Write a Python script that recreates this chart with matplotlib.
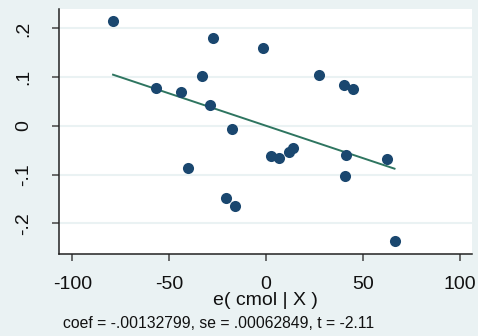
import numpy as np
import matplotlib
matplotlib.use("Agg")
import matplotlib.pyplot as plt

plt.rcParams['font.family'] = ['Liberation Sans', 'DejaVu Sans']

# residual data
ex = [-79.0, -27.2, -56.6, -43.7, -33.0, -29.1, -17.4, -40.1, -20.5, -16.0,
      -1.7, 27.4, 40.1, 45.1, 2.4, 6.9, 11.9, 14.1, 41.3, 62.5, 40.6, 66.3]
ey = [0.215, 0.181, 0.078, 0.070, 0.102, 0.043, -0.0055, -0.086, -0.149, -0.164,
      0.160, 0.104, 0.083, 0.075, -0.062, -0.066, -0.053, -0.045, -0.060, -0.068,
      -0.103, -0.237]
coef = -0.00132799
se = 0.00062849
tstat = -2.11
xticks = [-100, -50, 0, 50, 100]
yticks = [-0.2, -0.1, 0.0, 0.1, 0.2]
yticklabels = ['-.2', '-.1', '0', '.1', '.2']

bg = '#eaf2f3'
fig = plt.figure(figsize=(4.78, 3.36), dpi=100, facecolor=bg)
ax = fig.add_axes([59/478, 1-254/336, (472-59)/478, (254-9)/336])
ax.set_facecolor('white')

ex_a = np.array(ex); ey_a = np.array(ey)
icpt = ey_a.mean() - coef * ex_a.mean()
xl = np.array([ex_a.min(), ex_a.max()])
ax.scatter(ex, ey, s=64, color='#1a476f', zorder=3, linewidths=0)
ax.plot(xl, icpt + coef * xl, color='#2e7560', lw=1.4, zorder=2)

ax.set_xlim(-106.9, 106.3)
ax.set_ylim(-0.263, 0.240)
ax.set_xticks(xticks)
ax.set_xticklabels([str(v) for v in xticks])
ax.set_yticks(yticks)
ax.set_yticklabels(yticklabels, rotation=90, va='center')
ax.grid(axis='y', color=bg, lw=1.5, zorder=0)
ax.set_axisbelow(True)
for s in ['top', 'right']:
    ax.spines[s].set_visible(False)
for s in ['left', 'bottom']:
    ax.spines[s].set_color('#222222')
    ax.spines[s].set_linewidth(1.1)
ax.tick_params(axis='both', length=5, width=1.1, color='#444444', labelsize=14, labelcolor='#111111')
ax.tick_params(axis='x', pad=11)
ax.tick_params(axis='y', pad=14)
ax.set_xlabel('e( cmol | X )', fontsize=14, labelpad=-1, color='#111111')

fig.text(63/478, 1-323/336, 'coef = -.00132799, se = .00062849, t = -2.11',
         fontsize=11.3, ha='left', va='center', color='#111111')

fig.savefig('out.png', dpi=100, facecolor=bg)
